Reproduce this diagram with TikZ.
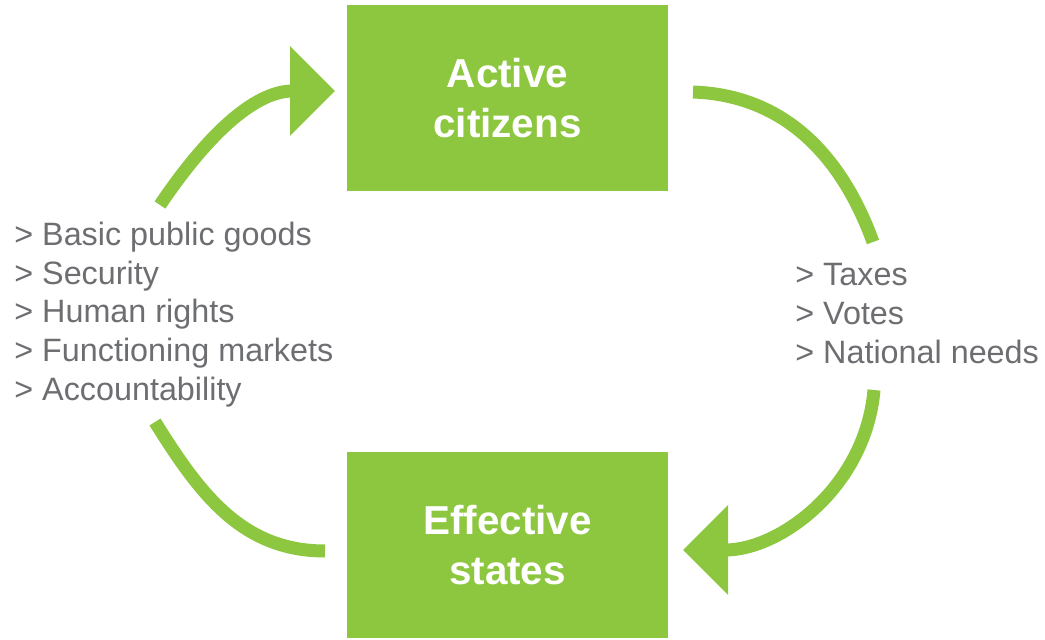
\documentclass[tikz,border=0pt]{standalone}
\usepackage{fontspec}
\setmainfont{Liberation Sans}
\usetikzlibrary{arrows.meta}
\definecolor{leafgreen}{HTML}{8DC63F}
\definecolor{listgray}{HTML}{6D6E71}

\begin{document}
\begin{tikzpicture}[
    box/.style={fill=leafgreen, minimum width=6.42cm, minimum height=3.72cm, inner sep=0pt,
        text=white, align=center, font=\fontsize{23}{28.5}\selectfont\bfseries},
    list/.style={text=listgray, align=left, inner sep=0pt, anchor=west,
        font=\fontsize{18.4}{22.1}\selectfont},
    flow/.style={leafgreen, line width=0.26cm},
    bigtip/.style={-{Triangle[length=0.9cm,width=1.74cm]}}]
    \useasboundingbox (0,0) rectangle (20.9,12.78);

    % Kaesten
    \node[box] (citizens) at (10.15, 10.81) {Active\\citizens};
    \node[box] (states) at (10.15, 1.88) {Effective\\states};

    % Listen
    \node[list] (benefits) at (0.28, 6.49) {> Basic public goods\\> Security\\> Human rights\\> Functioning markets\\> Accountability};
    \node[list] (inputs) at (15.9, 6.51) {> Taxes\\> Votes\\> National needs};

    % Enden der Boegen
    \coordinate (benefits-top) at (3.2, 8.68);
    \coordinate (citizens-in) at (6.70, 10.96);
    \coordinate (citizens-out) at (13.86, 10.94);
    \coordinate (inputs-top) at (17.46, 7.94);
    \coordinate (inputs-bottom) at (17.48, 4.98);
    \coordinate (states-in) at (13.66, 1.78);
    \coordinate (states-out) at (6.50, 1.76);
    \coordinate (benefits-bottom) at (3.10, 4.34);

    % Boegen
    \draw[flow, bigtip] (benefits-top) to[out=56, in=180] (citizens-in);
    \draw[flow] (citizens-out) to[out=-2, in=110] (inputs-top);
    \draw[flow, bigtip] (inputs-bottom) to[out=-95, in=0] (states-in);
    \draw[flow] (states-out) to[out=180, in=-58] (benefits-bottom);
\end{tikzpicture}
\end{document}
